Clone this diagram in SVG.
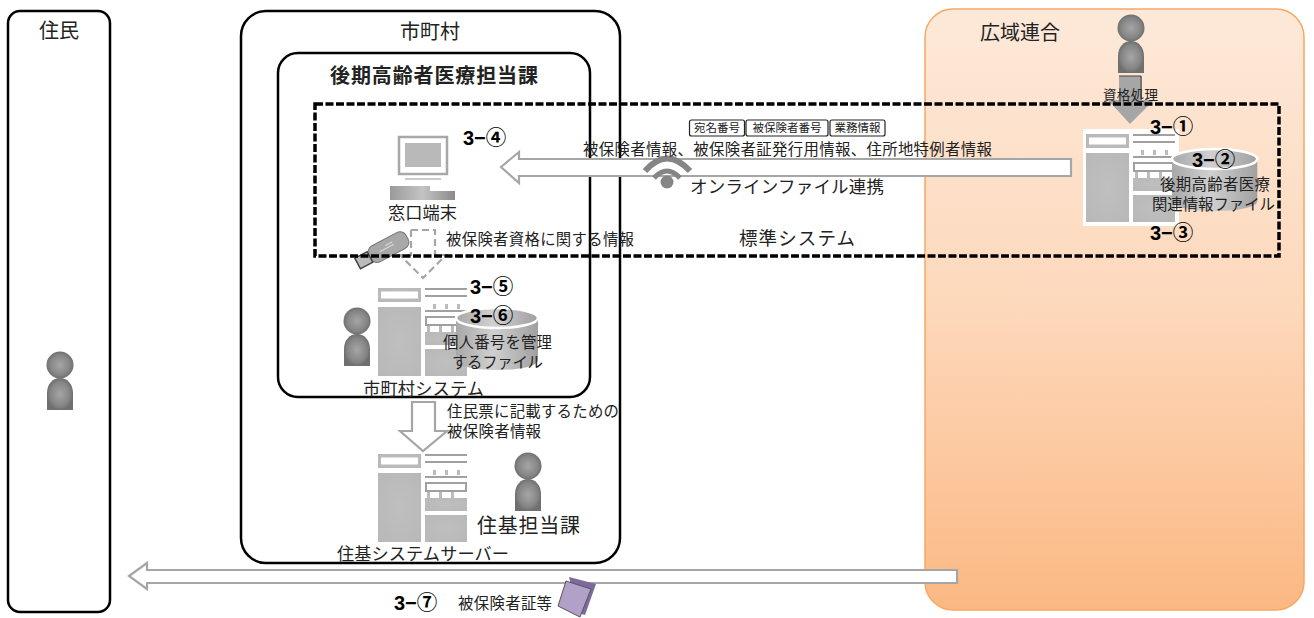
<svg xmlns="http://www.w3.org/2000/svg" xmlns:xlink="http://www.w3.org/1999/xlink" width="1314" height="618" viewBox="0 0 1314 618">
<style>
text{font-family:"Noto Sans CJK JP","Liberation Sans",sans-serif;fill:#222}
.box{fill:none;stroke:#000;stroke-width:2.5}
.hollow{fill:#fff;stroke:#a6a6a6;stroke-width:2.2}
.t16{font-size:15.4px}
.t17{font-size:17.2px}
.t20{font-size:20px}
.num{font-family:"Liberation Sans","Noto Sans CJK JP",sans-serif;font-size:20px;font-weight:700;fill:#000}
.num tspan{font-family:"Noto Sans CJK JP",sans-serif;font-size:20.500px;font-weight:700}
.tag{fill:#fff;stroke:#222;stroke-width:1.2}
.tagt{font-size:11.5px;text-anchor:middle}
.g{fill:url(#sv)}
.w{fill:#fff}
.ln{fill:#a0a0a0}
.dt{fill:#bbb}
</style>
<defs>
<linearGradient id="kouiki" x1="0" y1="0" x2="0" y2="1"><stop offset="0" stop-color="#fde9d9"/><stop offset="0.5" stop-color="#fdd8bb"/><stop offset="1" stop-color="#fbb883"/></linearGradient>
<radialGradient id="pers"><stop offset="0" stop-color="#a6a6a6"/><stop offset="0.75" stop-color="#858585"/><stop offset="1" stop-color="#6f6f6f"/></radialGradient>
<radialGradient id="sv" r="0.8"><stop offset="0" stop-color="#bfbfbf"/><stop offset="0.85" stop-color="#b8b8b8"/><stop offset="1" stop-color="#9a9a9a"/></radialGradient>
<linearGradient id="cyl" x1="0" y1="0" x2="1" y2="0"><stop offset="0" stop-color="#a8a8a8"/><stop offset="0.45" stop-color="#d0d0d0"/><stop offset="1" stop-color="#a0a0a0"/></linearGradient>
<linearGradient id="kb" x1="0" y1="0" x2="1" y2="0"><stop offset="0" stop-color="#9a9a9a"/><stop offset="0.5" stop-color="#c4c4c4"/><stop offset="1" stop-color="#8a8a8a"/></linearGradient>
<g id="person">
<circle cx="13" cy="13" r="13.5" fill="url(#pers)"/>
<path d="M0 58V41C0 32 6 26 13 26S26 32 26 41V58Z" fill="url(#pers)"/>
</g>
<g id="server">
<rect x="0" y="0" width="43" height="14" class="g"/><rect x="3" y="3.500" width="37" height="7" class="w"/>
<rect x="0" y="19" width="43" height="69" class="g"/>
<rect x="47" y="0" width="42" height="2" class="ln"/><rect x="47" y="7" width="42" height="2" class="ln"/>
<rect x="55" y="16" width="3" height="5" class="dt"/><rect x="67" y="16" width="3" height="5" class="dt"/><rect x="79" y="16" width="3" height="5" class="dt"/>
<rect x="47" y="22" width="42" height="2" class="ln"/>
<rect x="48" y="29" width="40" height="8" fill="#fff" stroke="#a0a0a0" stroke-width="2"/>
<rect x="47" y="44" width="42" height="13" class="g"/>
<path d="M49 38h3v7h-3zM61 38h3v7h-3zM73 38h3v7h-3z" fill="#bbb"/>
<rect x="47" y="61" width="42" height="27" class="g"/>
</g>
<g id="cylinder">
<path d="M0 10V52C0 58 18 62 41 62S82 58 82 52V10Z" fill="url(#cyl)"/>
<ellipse cx="41" cy="10" rx="41" ry="10" fill="url(#cyl)" stroke="#fff" stroke-width="2.500"/>
</g>
</defs>

<g id="juumin"><rect class="box" x="8" y="11" width="102" height="601" rx="12"/>
<text class="t20" x="59" y="38" text-anchor="middle">住民</text>
<use xlink:href="#person" x="47" y="352"/></g>

<g id="kouiki-rengo"><rect x="925" y="9" width="379" height="601" rx="28" fill="url(#kouiki)" stroke="#f8a765" stroke-width="1.500"/>
<text class="t20" x="980" y="40">広域連合</text>
<use xlink:href="#person" x="1118" y="15"/></g>

<g id="shichouson"><rect class="box" x="241" y="11" width="379" height="552" rx="25"/>
<text class="t20" x="430" y="39" text-anchor="middle">市町村</text></g>

<g id="tantouka"><rect class="box" x="278" y="53" width="312" height="344" rx="20"/>
<text x="330" y="83" font-size="20" font-weight="700" textLength="208">後期高齢者医療担当課</text></g>

<g id="connectors">
<path class="hollow" d="M501 167L519 152V159H1071V176H519V183Z"/>
<path class="hollow" d="M129 576L147 563V570H957V583H147V589Z"/>
<path class="hollow" d="M412 402H435V431H447L423 451L400 431H412Z"/>
<path class="hollow" stroke-dasharray="7 4" d="M411 230H435V255H446L423 278L400 255H411Z"/>
<path d="M1119 76H1142V100H1154L1130 124L1108 100H1119Z" fill="#a6a6a6"/>
<path d="M1119 76H1141V100" fill="none" stroke="#444" stroke-width="1"/>
</g>

<g id="madoguchi">
<rect x="399" y="137" width="48" height="37" fill="#fff" stroke="#a8a8a8" stroke-width="2.500"/>
<rect x="405" y="143" width="36" height="24" fill="#b9b9b9"/>
<rect x="405" y="178" width="36" height="2" fill="#ccc"/>
<path d="M390 186H430V191H455V200H390Z" fill="url(#kb)"/>
<text class="t17" x="388" y="219" textLength="69">窓口端末</text>
</g>

<g id="usb">
<g transform="translate(385 249) rotate(-28)">
<rect x="-17" y="-9" width="42" height="18" rx="7" fill="#a8a8a8" stroke="#777"/>
<rect x="-31" y="-6" width="14" height="12" fill="#bbb" stroke="#444" stroke-width="1.500"/>
<path d="M-6 0H10M2 -3H10" stroke="#d8d8d8" stroke-width="1.200"/>
</g></g>

<g id="kouiki-server">
<rect x="1083" y="129" width="96" height="97" fill="#fff"/>
<use xlink:href="#server" x="1086" y="134"/>
<use xlink:href="#cylinder" transform="translate(1172 149) scale(1.04 1)"/>
<text class="t16" x="1160" y="190" textLength="110">後期高齢者医療</text>
<text class="t16" x="1152" y="210" textLength="123">関連情報ファイル</text>
</g>

<g id="shichouson-system">
<use xlink:href="#server" x="378" y="288"/>
<use xlink:href="#cylinder" x="456" y="308"/>
<use xlink:href="#person" x="344" y="308"/>
<text class="t16" x="443" y="348" textLength="109">個人番号を管理</text>
<text class="t16" x="452" y="368" textLength="91">するファイル</text>
<text class="t17" x="363" y="395" textLength="121">市町村システム</text>
</g>

<g id="juuki-server">
<use xlink:href="#server" x="378" y="454"/>
<use xlink:href="#person" x="515" y="453"/>
<text class="t20" x="477" y="533" font-size="20.500" textLength="103">住基担当課</text>
<text class="t17" x="337" y="560" textLength="172">住基システムサーバー</text>
</g>

<g id="wifi" fill="none" stroke="#858585" stroke-linecap="butt">
<path d="M645 171Q667 146 690 171" stroke-width="6"/>
<path d="M654 178Q667 164 680 178" stroke-width="5"/>
<circle cx="667" cy="182" r="6.500" fill="#858585" stroke="none"/>
</g>

<g id="tags">
<rect class="tag" x="689.500" y="120" width="55" height="16" rx="2"/><text class="tagt" x="717" y="132">宛名番号</text>
<rect class="tag" x="746" y="120" width="82" height="16" rx="2"/><text class="tagt" x="787" y="132">被保険者番号</text>
<rect class="tag" x="830" y="120" width="55" height="16" rx="2"/><text class="tagt" x="857.500" y="132">業務情報</text>
</g>

<g id="labels">
<text class="t16" x="583" y="155" textLength="409">被保険者情報、被保険者証発行用情報、住所地特例者情報</text>
<text x="690" y="193" font-size="17.500" textLength="194">オンラインファイル連携</text>
<text x="739" y="245" font-size="18.500" textLength="116">標準システム</text>
<text class="t16" x="446" y="245" textLength="188">被保険者資格に関する情報</text>
<text x="1103" y="100" font-size="13.500" textLength="55">資格処理</text>
<text class="t16" x="447" y="417" textLength="172">住民票に記載するための</text>
<text class="t16" x="447" y="437" textLength="94">被保険者情報</text>
<text class="t16" x="458" y="609" textLength="94">被保険者証等</text>
<text class="num" x="1150" y="134">3−<tspan>①</tspan></text>
<text class="num" x="1192" y="167">3−<tspan>②</tspan></text>
<text class="num" x="1150" y="240">3−<tspan>③</tspan></text>
<text class="num" x="463" y="145">3−<tspan>④</tspan></text>
<text class="num" x="470" y="294">3−<tspan>⑤</tspan></text>
<text class="num" x="470" y="323">3−<tspan>⑥</tspan></text>
<text class="num" x="394" y="610">3−<tspan>⑦</tspan></text>
</g>

<g id="document">
<path d="M569 577L596 584L585 615L578 613Z" fill="#7d6a9c"/>
<path d="M566 581L591 589L580 617L558 606Z" fill="#b1a0c7" stroke="#555" stroke-width="1"/>
</g>

<g id="hyoujun"><rect x="315" y="104" width="964" height="152" fill="none" stroke="#000" stroke-width="3.500" stroke-dasharray="8 2.500"/></g>
</svg>
